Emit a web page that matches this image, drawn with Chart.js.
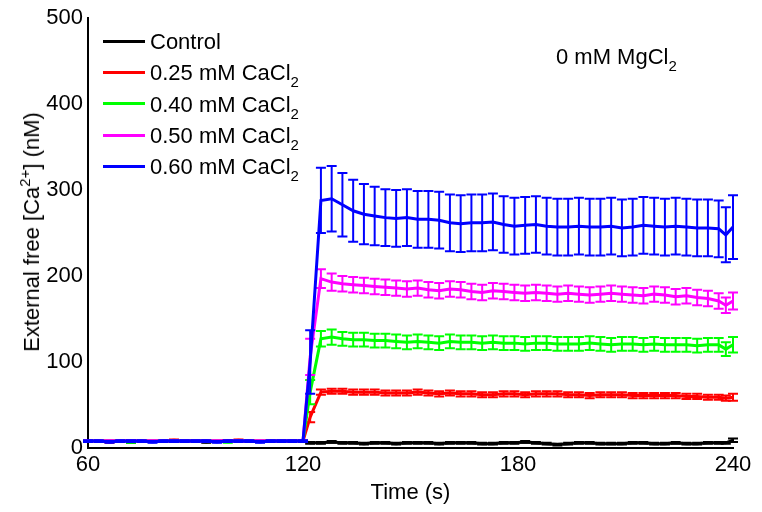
<!DOCTYPE html>
<html>
<head>
<meta charset="utf-8">
<script src="https://cdn.jsdelivr.net/npm/chart.js@4.4.1/dist/chart.umd.min.js"></script>
<style>
  html, body { margin: 0; padding: 0; background: #fff; }
  #wrap { position: relative; width: 762px; height: 512px; font-family: Arial, "Liberation Sans", sans-serif; color: #000; }
  #chart { position: absolute; left: 0; top: 0; }
  .legend { position: absolute; left: 103px; top: 28px; font-size: 22px; }
  .legend .row { position: relative; height: 31.3px; line-height: 28px; white-space: nowrap; }
  .legend .swatch { display: inline-block; width: 42px; height: 3px; vertical-align: middle; margin-right: 5px; position: relative; top: -2px; }
  sub { font-size: 15px; vertical-align: -7px; line-height: 0; }
  sup { font-size: 15px; vertical-align: 9px; line-height: 0; }
  .note { position: absolute; left: 556px; top: 44px; font-size: 22px; white-space: nowrap; }
  .ytitle { position: absolute; left: 32px; top: 232px; font-size: 22px; white-space: nowrap; transform: translate(-50%, -50%) rotate(-90deg); }
</style>
</head>
<body>
<div id="wrap">
  <canvas id="chart" width="762" height="512"></canvas>
  <div class="ytitle">External free [Ca<sup>2+</sup>] (nM)</div>
  <div class="note">0 mM MgCl<sub>2</sub></div>
  <div class="legend" id="legend"></div>
</div>
<script>
// --- Dados ---
const times = [60, 63, 66, 69, 72, 75, 78, 81, 84, 87, 90, 93, 96, 99, 102, 105, 108, 111, 114, 117, 120,
  122,
  125, 128, 131, 134, 137, 140, 143, 146, 149, 152, 155, 158, 161, 164, 167, 170, 173, 176, 179,
  182, 185, 188, 191, 194, 197, 200, 203, 206, 209, 212, 215, 218, 221, 224, 227, 230, 233, 236,
  238, 240];

const seriesNames = ['Control', '0.25 mM CaCl', '0.40 mM CaCl', '0.50 mM CaCl', '0.60 mM CaCl'];
const seriesSubs = ['', '2', '2', '2', '2'];
const seriesColors = ['#000000', '#ff0000', '#00ff00', '#ff00ff', '#0000ff'];

const controlVals = [8, 8, 8, 8, 7, 8, 8, 8, 8, 8, 8, 7, 8, 8, 8, 8, 8, 8, 8, 8, 8,
  6,
  6, 7, 6, 6, 5, 6, 6, 5, 6, 6, 6, 5, 6, 6, 6, 5, 5, 6, 6,
  7, 6, 5, 4, 5, 6, 6, 5, 5, 5, 6, 6, 5, 5, 6, 5, 5, 6, 6,
  6, 9];
const controlErr = [1, 1, 1, 1, 1, 1, 1, 1, 1, 1, 1, 1, 1, 1, 1, 1, 1, 1, 1, 1, 1,
  1,
  1, 1, 1, 1, 1, 1, 1, 1, 1, 1, 1, 1, 1, 1, 1, 1, 1, 1, 1,
  1, 1, 1, 1, 1, 1, 1, 1, 1, 1, 1, 1, 1, 1, 1, 1, 1, 1, 1,
  1, 2];

const ca025Vals = [8, 8, 7, 8, 8, 8, 8, 8, 9, 8, 8, 8, 8, 8, 9, 8, 8, 8, 8, 8, 8,
  36,
  65, 66, 66, 65, 65, 65, 64, 64, 64, 65, 64, 63, 64, 63, 63, 62, 62, 63, 63,
  62, 63, 63, 63, 62, 62, 61, 62, 62, 62, 61, 61, 61, 61, 61, 60, 60, 59, 59,
  58, 59];
const ca025Err = [1, 1, 1, 1, 1, 1, 1, 1, 1, 1, 1, 1, 1, 1, 1, 1, 1, 1, 1, 1, 1,
  6,
  3, 3, 3, 3, 3, 3, 3, 3, 3, 3, 3, 3, 3, 3, 3, 3, 3, 3, 3,
  3, 3, 3, 3, 3, 3, 3, 3, 3, 3, 3, 3, 3, 3, 3, 3, 3, 3, 3,
  3, 4];

const ca040Vals = [8, 8, 8, 8, 7, 8, 8, 8, 8, 8, 8, 8, 8, 7, 8, 8, 8, 8, 8, 8, 8,
  65,
  127, 129, 127, 126, 126, 125, 125, 124, 123, 124, 123, 122, 124, 123, 123, 122, 123, 122, 122,
  121, 122, 122, 121, 121, 121, 122, 121, 120, 121, 121, 120, 121, 120, 120, 120, 119, 120, 120,
  115, 120];
const ca040Err = [1, 1, 1, 1, 1, 1, 1, 1, 1, 1, 1, 1, 1, 1, 1, 1, 1, 1, 1, 1, 1,
  14,
  9, 9, 8, 8, 8, 8, 8, 8, 8, 8, 8, 8, 8, 8, 8, 8, 8, 8, 8,
  8, 8, 8, 8, 8, 8, 8, 8, 8, 8, 8, 8, 8, 8, 8, 8, 8, 8, 8,
  8, 9];

const ca050Vals = [8, 8, 8, 8, 8, 8, 8, 8, 8, 8, 8, 8, 8, 8, 8, 8, 8, 8, 8, 8, 8,
  106,
  197, 193, 191, 190, 189, 188, 187, 186, 185, 186, 184, 183, 185, 184, 182, 181, 183, 182, 181,
  180, 181, 180, 179, 180, 179, 178, 179, 180, 179, 178, 177, 179, 178, 176, 177, 175, 174, 171,
  166, 171];
const ca050Err = [1, 1, 1, 1, 1, 1, 1, 1, 1, 1, 1, 1, 1, 1, 1, 1, 1, 1, 1, 1, 1,
  21,
  11, 10, 9, 9, 9, 9, 9, 9, 9, 9, 9, 9, 9, 9, 9, 9, 9, 9, 9,
  9, 9, 9, 9, 9, 9, 9, 9, 9, 9, 9, 9, 9, 9, 9, 9, 9, 9, 9,
  9, 10];

const ca060Vals = [8, 8, 7, 8, 8, 8, 7, 8, 8, 8, 8, 8, 7, 8, 8, 8, 7, 8, 8, 8, 8,
  100,
  288, 290, 283, 276, 272, 270, 268, 267, 268, 266, 266, 265, 262, 261, 262, 262, 263, 260, 258,
  259, 260, 258, 257, 257, 258, 257, 257, 258, 256, 257, 259, 258, 257, 258, 257, 256, 256, 255,
  248, 257];
const ca060Err = [1, 1, 1, 1, 1, 1, 1, 1, 1, 1, 1, 1, 1, 1, 1, 1, 1, 1, 1, 1, 1,
  37,
  38, 38, 37, 36, 35, 34, 33, 33, 33, 33, 33, 33, 33, 33, 33, 33, 33, 33, 33,
  33, 33, 33, 33, 33, 33, 33, 33, 33, 33, 33, 33, 33, 33, 33, 33, 33, 33, 33,
  32, 37];

const xTicks = [60, 120, 180, 240];
const yTicks = [0, 100, 200, 300, 400, 500];

const allVals = [controlVals, ca025Vals, ca040Vals, ca050Vals, ca060Vals];
const allErrs = [controlErr, ca025Err, ca040Err, ca050Err, ca060Err];

// --- Legenda em HTML (por causa do subscrito) ---
const legendEl = document.getElementById('legend');
seriesNames.forEach((name, i) => {
  const row = document.createElement('div');
  row.className = 'row';
  row.innerHTML = '<span class="swatch" style="background:' + seriesColors[i] + '"></span>' +
    name + (seriesSubs[i] ? '<sub>' + seriesSubs[i] + '</sub>' : '');
  legendEl.appendChild(row);
});

// --- Barras de erro (plugin) ---
const errorBarsPlugin = {
  id: 'errorBars',
  afterDatasetDraw(chart, args) {
    const ds = chart.data.datasets[args.index];
    if (!ds.errors) return;
    const ctx = chart.ctx;
    const xs = chart.scales.x, ys = chart.scales.y;
    const area = chart.chartArea;
    ctx.save();
    ctx.beginPath();
    ctx.rect(area.left - 6, area.top, area.right - area.left + 12, area.bottom - area.top);
    ctx.clip();
    ctx.strokeStyle = ds.borderColor;
    ctx.lineWidth = 2;
    ds.data.forEach((p, j) => {
      const e = ds.errors[j];
      const px = xs.getPixelForValue(p.x);
      const yTop = ys.getPixelForValue(p.y + e);
      const yBot = ys.getPixelForValue(p.y - e);
      ctx.beginPath();
      ctx.moveTo(px, yTop); ctx.lineTo(px, yBot);
      ctx.moveTo(px - 5, yTop); ctx.lineTo(px + 5, yTop);
      ctx.moveTo(px - 5, yBot); ctx.lineTo(px + 5, yBot);
      ctx.stroke();
    });
    ctx.restore();
  }
};

const datasets = seriesNames.map((name, i) => ({
  label: name + seriesSubs[i],
  data: times.map((t, j) => ({ x: t, y: allVals[i][j] })),
  errors: allErrs[i],
  borderColor: seriesColors[i],
  backgroundColor: seriesColors[i],
  borderWidth: 3,
  pointRadius: 0,
  tension: 0,
  fill: false,
  order: seriesNames.length - i
}));

const tickFont = { family: 'Arial, "Liberation Sans", sans-serif', size: 22 };

new Chart(document.getElementById('chart'), {
  type: 'line',
  data: { datasets: datasets },
  plugins: [errorBarsPlugin],
  options: {
    responsive: false,
    animation: false,
    layout: { padding: { top: 17, right: 29, left: 0, bottom: 0 } },
    plugins: { legend: { display: false }, tooltip: { enabled: false } },
    scales: {
      x: {
        type: 'linear',
        min: 60,
        max: 240,
        afterBuildTicks: (scale) => { scale.ticks = xTicks.map(v => ({ value: v })); },
        afterFit: (scale) => { scale.height = 64; },
        ticks: { font: tickFont, color: '#000', padding: 4, maxRotation: 0 },
        grid: { display: false, drawTicks: false },
        border: { display: true, color: '#000', width: 2 },
        title: { display: true, text: 'Time (s)', font: tickFont, color: '#000', padding: { top: 0, bottom: 6 } }
      },
      y: {
        min: 0,
        max: 500,
        afterBuildTicks: (scale) => { scale.ticks = yTicks.map(v => ({ value: v })); },
        afterFit: (scale) => { scale.width = 88; },
        ticks: { font: tickFont, color: '#000', padding: 5 },
        grid: { display: false, drawTicks: false },
        border: { display: true, color: '#000', width: 2 }
      }
    }
  }
});
</script>
</body>
</html>
